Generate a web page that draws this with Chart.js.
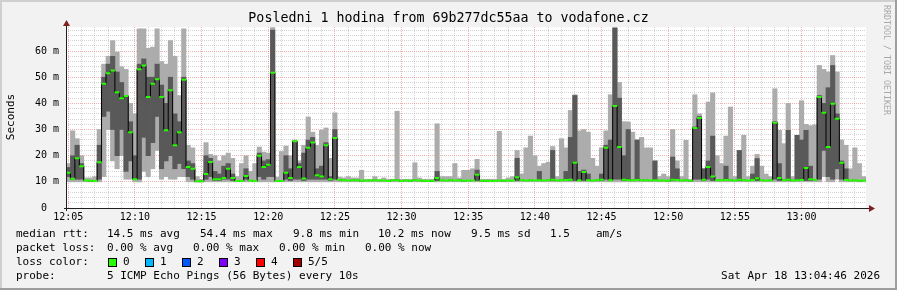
<!DOCTYPE html>
<html>
<head>
<meta charset="utf-8">
<script src="https://cdn.jsdelivr.net/npm/chart.js@4/dist/chart.umd.min.js"></script>
<style>
  html, body { margin: 0; padding: 0; background: #f2f2f2; }
  canvas { display: block; }
</style>
</head>
<body>
<canvas id="c" width="897" height="290"></canvas>
<script>
// ---- data (20 s bins, 12:04:50 .. 13:04:50, values in milliseconds) ----
const startTime = [12, 4, 50];
const stepSeconds = 20;
const binCount = 180;
const tickLabels = ["12:05","12:10","12:15","12:20","12:25","12:30","12:35","12:40","12:45","12:50","12:55","13:00"];

const median = [
  13.5,11.2,19,16,10.5,10.4,10.3,17.5,47.5,51.5,52.6,44.3,42,42.8,29,
  11,53,54.5,42.4,47.5,49.2,42.4,29.7,45,24,29,49,15.7,15,10.2,
  10.2,13,17.6,11,11,11.5,15,11.5,10.3,10.3,12.2,10.5,10.3,20,15.7,
  16.5,51.7,10.3,10.3,13.5,11.5,25.5,15.7,11.3,23,25,12.5,12,24,11,
  26.8,10.8,10.6,10.5,10.6,10.6,10.4,10.5,10.5,10.6,10.5,10.5,10.3,10.6,10.6,
  10.3,10.5,10.4,10.6,10.5,10.4,10.3,10.4,11.5,10.6,10.5,10.6,10.5,10.6,10.4,
  10.5,10.5,12.7,10.4,10.4,10.3,10.3,10.5,10.4,10.5,10.5,11.8,10.6,10.5,10.6,
  10.5,10.6,10.5,10.6,10.8,10.5,10.6,10.7,10.8,17.3,10.5,13.8,10.6,10.5,10.6,
  10.8,23,10.6,39,23.3,10.8,10.6,10.6,10.7,10.6,10.6,10.5,10.6,10.5,10.5,
  10.4,10.8,10.7,10.5,10.6,10.4,30.6,34.4,10.8,15.7,12,10.6,10.6,10.7,10.6,
  10.5,10.8,10.6,10.5,10.7,11.4,10.6,10.5,10.6,32.6,11.5,10.6,10.8,10.5,10.6,
  10.7,15.3,11,10.8,42.4,36.4,23.3,39.9,34.1,17.3,10.7,10.5,10.6,10.4,10.5
];
const minPing = [
  10,10,10,10,10,10,10,10,12,30,18,15,20,11,11,
  10,10,14,12,15,22,11,12,11,11,12,12,10,10,9.9,
  9.9,10,10,10,10,10,10,10,10,10,10,10,10,10,10,
  10,10,10,10,10,10,10,10,10,10,10,10,10,10,10,
  10,10,10,10,10,10,10,10,10,10,10,10,10,10,10,
  10,10,10,10,10,10,10,10,10,10,10,10,10,10,10,
  10,10,10,10,10,10,10,10,10,10,10,10,10,10,10,
  10,10,10,10,10,10,10,10,10,10,10,10,10,10,10,
  10,10,10,10,10,10,10,10,10,10,10,10,10,10,10,
  10,10,10,10,10,10,10,10,10,10,10,10,10,10,10,
  10,10,10,10,10,10,10,10,10,10,10,10,10,10,10,
  10,10,10,10,10,12,10,10,11,10,10,10,10,10,10
];
const darkLo = [
  12,11,11,11,10.5,10.4,10.3,11,35,37,30,20,30,14,18,
  11,11,27,20,25,35,15,18,20,15,17,15,12,11,10.2,
  10.2,11,12,10.5,10.5,11,11,10.5,10.3,10.3,11,10.5,10.3,12,11,
  12,12,10.3,10.3,11,10.5,11,11,10.5,11,11,11,11,11,10.5,
  11,10.8,10.6,10.5,10.6,10.6,10.4,10.5,10.5,10.6,10.5,10.5,10.3,10.6,10.6,
  10.3,10.5,10.4,10.6,10.5,10.4,10.3,10.4,10.5,10.6,10.5,10.6,10.5,10.6,10.4,
  10.5,10.5,10.5,10.4,10.4,10.3,10.3,10.5,10.4,10.5,10.5,10.5,10.6,10.5,10.6,
  10.5,10.5,10.5,10.6,10.5,10.5,10.6,10.5,10.5,10.5,10.5,10.5,10.5,10.5,10.6,
  10.5,11,10.5,11,11,10.5,10.5,10.6,10.5,10.6,10.6,10.5,10.5,10.5,10.5,
  10.4,10.5,10.5,10.5,10.6,10.4,11,11,10.5,11,10.5,10.6,10.6,10.5,10.6,
  10.5,10.5,10.6,10.5,10.5,10.5,10.6,10.5,10.6,11,10.5,10.6,10.5,10.5,10.5,
  10.5,10.5,10.5,10.8,11,22,12,11,15,11,10.5,10.5,10.6,10.4,10.5
];
const darkHi = [
  15.5,20,24,17,10.5,10.4,10.3,24,50,55,58,52,48,43,33,
  20,55,57,50,50,55,47,40,50,36,33,50,18,17,10.2,
  10.2,20,19,14,13,16,17,13,10.3,10.3,15,10.5,10.3,21,18,
  18.5,68,10.3,10.3,20,15,25.5,17,21,26,27,15,16,25,12,
  30,10.8,10.6,10.5,10.6,10.6,10.4,10.5,10.5,10.6,10.5,10.5,10.3,10.6,10.6,
  10.3,10.5,10.4,10.6,10.5,10.4,10.3,10.4,14,10.6,10.5,10.6,10.5,10.6,10.4,
  10.5,10.5,14.5,10.4,10.4,10.3,10.3,10.5,10.4,10.5,10.5,19,10.6,10.5,10.6,
  10.5,14,10.5,10.6,22,10.5,10.6,14,27,43,14,14.5,13,10.5,10.6,
  13,24,26,68.8,42,20,30,10.6,26,10.6,10.6,10.5,18,10.5,10.5,
  10.4,19.5,15,10.5,10.6,10.4,31,35,15,18,27.5,10.6,10.6,16,10.6,
  10.5,22,10.6,10.5,13,18.9,10.6,10.5,10.6,33,17,10.6,29.7,10.5,27.8,
  26,29.7,16,10.8,43,40,46,54.5,36,18,15,10.5,10.6,10.4,10.5
];
const maxPing = [
  17,29.5,26.5,20,11.5,11.5,12,30,55,58,64,59.6,54,53,40,
  36,68.5,68.5,61,61.5,68.5,56,55,64,58,43,68.5,24,23,12,
  11,25,20.5,20,18,20,21,19,12,17,20,14,17,23.3,21.4,
  21,69,11.8,21.6,23.7,20,26,18,24,34.8,29,24,29.7,30.6,19,
  36.4,11.8,11.5,12,11.5,11.5,14.4,11,11,12,11,11.5,11,11,37,
  11,11,11,17.3,11.5,11,11,11,32.2,12,12,12,17,11.5,14.4,
  14.4,15,18.6,11,11,11,11,29.3,11,11.5,12,22,13,23,27.5,
  20,16,17,17.5,23.5,12,26.5,23,37.3,43.3,29.5,30,29,19,16,
  23,29.5,43.3,69,48,33,32.9,29,26,27,23,23,18,12,13,
  12,30,18,12,25.9,11,43.3,36,15,40.5,44,20,17,27.5,38.6,
  12,22,27.8,12,16,20.5,16,13,12,45.6,29.7,24.6,40,12,27.8,
  41,32,31.5,31.8,54.5,53,52,58.3,52,26,24,15,23,17,12
];

// categories built from start time and step
const categories = [];
for (let i = 0; i < binCount; i++) {
  let s = startTime[0] * 3600 + startTime[1] * 60 + startTime[2] + 10 + i * stepSeconds;
  const h = Math.floor(s / 3600), m = Math.floor((s % 3600) / 60), sec = s % 60;
  categories.push(String(h).padStart(2, '0') + ':' + String(m).padStart(2, '0') + ':' + String(sec).padStart(2, '0'));
}

const MONO = '"DejaVu Sans Mono", "Liberation Mono", monospace';
const MAJOR = 'rgba(222,79,79,0.45)';
const MINOR = 'rgba(143,143,143,0.38)';

function xTickKind(idx) {
  const c = categories[idx];
  if (!c || !c.endsWith(':00')) return 0;
  const mm = parseInt(c.slice(3, 5), 10);
  return mm % 5 === 0 ? 2 : 1;
}

const decor = {
  id: 'decor',
  beforeDraw(chart) {
    const ctx = chart.ctx, a = chart.chartArea;
    ctx.save();
    ctx.fillStyle = '#f2f2f2';
    ctx.fillRect(0, 0, chart.width, chart.height);
    ctx.fillStyle = '#cfcfcf';
    ctx.fillRect(0, 0, chart.width, 2);
    ctx.fillRect(0, 0, 2, chart.height);
    ctx.fillStyle = '#9e9e9e';
    ctx.fillRect(0, chart.height - 2, chart.width, 2);
    ctx.fillRect(chart.width - 2, 0, 2, chart.height);
    ctx.fillStyle = '#ffffff';
    ctx.fillRect(a.left, a.top, a.right - a.left, a.bottom - a.top);
    ctx.restore();
  },
  afterDraw(chart) {
    const ctx = chart.ctx, a = chart.chartArea;
    ctx.save();
    ctx.strokeStyle = '#1f1f1f';
    ctx.lineWidth = 1;
    const yb = Math.round(a.bottom) + 0.5, xl = Math.round(a.left) + 0.5;
    ctx.beginPath();
    ctx.moveTo(a.left - 2, yb);
    ctx.lineTo(a.right + 5, yb);
    ctx.moveTo(xl, a.bottom + 3);
    ctx.lineTo(xl, a.top - 4);
    ctx.stroke();
    ctx.fillStyle = '#801f1f';
    ctx.beginPath();
    ctx.moveTo(a.right + 3, yb - 3.5);
    ctx.lineTo(a.right + 9, yb);
    ctx.lineTo(a.right + 3, yb + 3.5);
    ctx.closePath(); ctx.fill();
    ctx.beginPath();
    ctx.moveTo(xl - 3.5, a.top - 1);
    ctx.lineTo(xl, a.top - 7);
    ctx.lineTo(xl + 3.5, a.top - 1);
    ctx.closePath(); ctx.fill();

    ctx.fillStyle = '#000';
    ctx.textBaseline = 'middle';
    ctx.textAlign = 'center';
    ctx.font = '13.3px ' + MONO;
    ctx.fillText('Posledni 1 hodina from 69b277dc55aa to vodafone.cz', 448.5, 19);

    ctx.font = '11px ' + MONO;
    ctx.save();
    ctx.translate(11, 117);
    ctx.rotate(-Math.PI / 2);
    ctx.fillText('Seconds', 0, 0);
    ctx.restore();

    ctx.save();
    ctx.fillStyle = '#a8a8a8';
    ctx.font = '8.3px ' + MONO;
    ctx.translate(886, 60);
    ctx.rotate(Math.PI / 2);
    ctx.fillText('RRDTOOL / TOBI OETIKER', 0, 0);
    ctx.restore();

    ctx.textAlign = 'left';
    ctx.fillStyle = '#000';
    ctx.font = '11px ' + MONO;
    const rows = [
      [234, [[16, 'median rtt:'], [107, '14.5 ms avg'], [200, '54.4 ms max'], [293, '9.8 ms min'], [378, '10.2 ms now'], [471, '9.5 ms sd'], [550, '1.5'], [596, 'am/s']]],
      [248, [[16, 'packet loss:'], [107, '0.00 % avg'], [193, '0.00 % max'], [279, '0.00 % min'], [365, '0.00 % now']]],
      [262, [[16, 'loss color:'], [123, '0'], [160, '1'], [197, '2'], [234, '3'], [271, '4'], [308, '5/5']]],
      [276, [[16, 'probe:'], [107, '5 ICMP Echo Pings (56 Bytes) every 10s']]]
    ];
    rows.forEach(([y, items]) => items.forEach(([x, t]) => ctx.fillText(t, x, y)));
    const boxes = [[108, '#26ff00'], [145, '#00b8ff'], [182, '#0059ff'], [219, '#7e00ff'], [256, '#ff0000'], [293, '#a10000']];
    boxes.forEach(([x, col]) => {
      ctx.fillStyle = col;
      ctx.fillRect(x, 258, 9, 9);
      ctx.strokeStyle = '#000';
      ctx.lineWidth = 1;
      ctx.strokeRect(x + 0.5, 258.5, 8, 8);
    });
    ctx.fillStyle = '#000';
    ctx.textAlign = 'right';
    ctx.fillText('Sat Apr 18 13:04:46 2026', 880, 276);
    ctx.restore();
  }
};

new Chart(document.getElementById('c'), {
  type: 'bar',
  data: {
    labels: categories,
    datasets: [
      {
        type: 'bar', order: 3, grouped: false,
        data: maxPing.map((v, i) => [minPing[i], v]),
        backgroundColor: '#acacac', borderWidth: 0,
        categoryPercentage: 1, barPercentage: 1
      },
      {
        type: 'bar', order: 2, grouped: false,
        data: darkHi.map((v, i) => [darkLo[i], v]),
        backgroundColor: '#595959', borderWidth: 0,
        categoryPercentage: 1, barPercentage: 1
      },
      {
        type: 'line', order: 1,
        data: median,
        borderColor: '#000000', borderWidth: 1,
        stepped: 'middle',
        pointStyle: 'line', pointRadius: 2.3, pointHoverRadius: 2.3,
        pointBorderColor: '#26ff00', pointBackgroundColor: '#26ff00', pointBorderWidth: 2
      }
    ]
  },
  options: {
    responsive: false, animation: false, devicePixelRatio: 1,
    layout: { padding: { left: 0, right: 31, top: 27, bottom: 0 } },
    plugins: { legend: { display: false }, tooltip: { enabled: false } },
    scales: {
      x: {
        offset: true,
        afterFit: s => { s.height = 82; },
        border: { display: false, dash: [1, 1] },
        grid: {
          offset: false, drawTicks: false,
          color: c => xTickKind(c.index) === 2 ? MAJOR : MINOR,
          lineWidth: c => xTickKind(c.index) === 0 ? 0 : 1
        },
        ticks: {
          autoSkip: false, maxRotation: 0, minRotation: 0, padding: 3,
          color: '#000', font: { family: MONO, size: 10 },
          callback: function (v, i) {
            const c = categories[i];
            if (!c || !c.endsWith(':00')) return '';
            const hm = c.slice(0, 5);
            return tickLabels.includes(hm) ? hm : '';
          }
        }
      },
      y: {
        min: 0, max: 69.2,
        afterFit: s => { s.width = 66; },
        border: { display: false, dash: [1, 1] },
        grid: {
          drawTicks: false,
          color: c => (Math.round(c.tick.value) % 10 === 0 ? MAJOR : MINOR),
          lineWidth: c => (c.tick.value < 0.5 ? 0 : 1)
        },
        ticks: {
          stepSize: 2, includeBounds: false, autoSkip: false, padding: 7,
          color: '#000', font: { family: MONO, size: 10 },
          callback: v => {
            const r = Math.round(v);
            if (r === 0) return '0  ';
            return r % 10 === 0 ? r + ' m' : '';
          }
        }
      }
    }
  },
  plugins: [decor]
});
</script>
</body>
</html>
